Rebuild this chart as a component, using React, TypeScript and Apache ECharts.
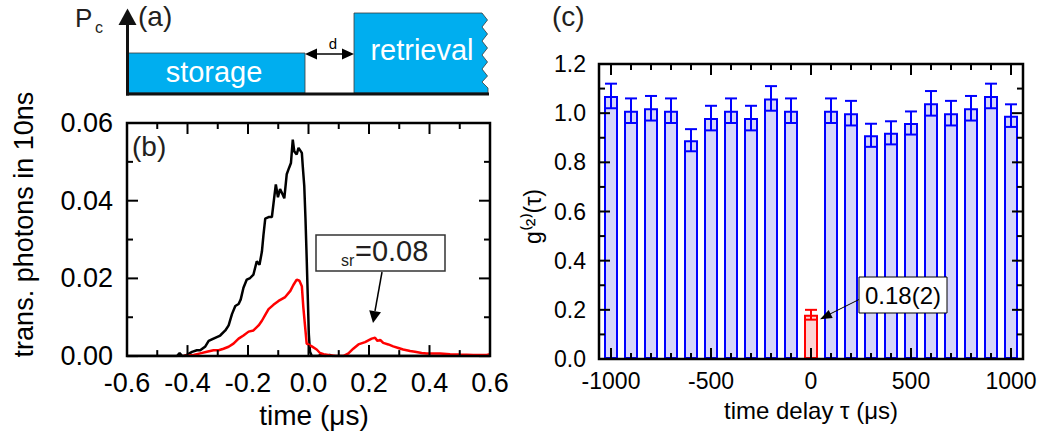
import React, { useEffect, useRef } from "react";
import * as echarts from "echarts";

const FONT = '"Liberation Sans", Arial, Helvetica, sans-serif';
const INK = "#231f20";
const BLUE = "#0000ff";
const RED = "#ff0000";

// (b) photons per 10 ns bin versus time (µs): input pulse without memory (black)
const inputPulse: [number, number][] = [
  [-0.6, 0], [-0.45, 0], [-0.435, 0], [-0.426, 0.0008], [-0.418, 0], [-0.402, 0.0003],
  [-0.385, 0.0011], [-0.369, 0.0015], [-0.358, 0.0015], [-0.341, 0.0025], [-0.33, 0.0039],
  [-0.314, 0.0045], [-0.292, 0.0053], [-0.275, 0.0066], [-0.264, 0.0079], [-0.253, 0.0108],
  [-0.242, 0.0129], [-0.231, 0.0134], [-0.224, 0.0146], [-0.215, 0.0176], [-0.204, 0.0197],
  [-0.193, 0.0201], [-0.182, 0.021], [-0.171, 0.0244], [-0.162, 0.0235], [-0.154, 0.0269],
  [-0.149, 0.0311], [-0.143, 0.0354], [-0.132, 0.0358], [-0.121, 0.0358], [-0.114, 0.0404],
  [-0.108, 0.0442], [-0.101, 0.0409], [-0.094, 0.043], [-0.086, 0.0417], [-0.08, 0.0406],
  [-0.072, 0.0468], [-0.064, 0.0485], [-0.058, 0.0497], [-0.052, 0.0557], [-0.047, 0.0527],
  [-0.039, 0.0519], [-0.033, 0.0536], [-0.022, 0.0523], [-0.019, 0.0489], [-0.014, 0.0438],
  [-0.01, 0.0354], [-0.006, 0.0252], [-0.002, 0.0142], [0.001, 0.0057], [0.005, 0.0011],
  [0.011, 0], [0.03, 0], [0.045, 0.0004], [0.055, 0], [0.07, 0.0003], [0.08, 0], [0.6, 0],
];

// (b) stored pulse: leakage during storage and retrieved photons (red)
const memoryTrace: [number, number][] = [
  [-0.413, 0], [-0.38, 0.0003], [-0.358, 0.0007], [-0.336, 0.0011], [-0.314, 0.0015],
  [-0.297, 0.0015], [-0.281, 0.0019], [-0.264, 0.0024], [-0.248, 0.0032], [-0.231, 0.0045],
  [-0.215, 0.0053], [-0.198, 0.0063], [-0.182, 0.0066], [-0.165, 0.0079], [-0.154, 0.0091],
  [-0.143, 0.0106], [-0.132, 0.0121], [-0.116, 0.0132], [-0.099, 0.0142], [-0.077, 0.0152],
  [-0.06, 0.0168], [-0.05, 0.0183], [-0.039, 0.0197], [-0.03, 0.0194], [-0.022, 0.018],
  [-0.017, 0.0125], [-0.011, 0.0074], [-0.006, 0.0032], [0.011, 0.0025], [0.027, 0.0017],
  [0.038, 0.0008], [0.05, 0.0005], [0.07, 0.0002], [0.09, 0], [0.115, 0], [0.132, 0.0007],
  [0.148, 0.0019], [0.165, 0.003], [0.187, 0.0036], [0.209, 0.0045], [0.22, 0.0047],
  [0.228, 0.0039], [0.237, 0.0042], [0.247, 0.0034], [0.264, 0.003], [0.28, 0.0025],
  [0.297, 0.0021], [0.313, 0.0017], [0.336, 0.0013], [0.352, 0.0011], [0.374, 0.0008],
  [0.391, 0.0007], [0.435, 0.0007], [0.468, 0.0005], [0.501, 0.0004], [0.545, 0.0003],
  [0.589, 0.0003], [0.6, 0.0005],
];

// (c) second-order correlation versus time delay τ (µs)
const delays = [
  -1000, -900, -800, -700, -600, -500, -400, -300, -200, -100, 0,
  100, 200, 300, 400, 500, 600, 700, 800, 900, 1000,
];
const g2Values = [
  1.07, 1.01, 1.02, 1.01, 0.89, 0.98, 1.01, 0.98, 1.06, 1.01, 0.18,
  1.01, 1.0, 0.91, 0.92, 0.96, 1.04, 1.0, 1.02, 1.07, 0.99,
];
const g2Errors = [
  0.05, 0.05, 0.05, 0.05, 0.045, 0.05, 0.05, 0.05, 0.05, 0.05, 0.02,
  0.05, 0.05, 0.047, 0.047, 0.047, 0.05, 0.05, 0.05, 0.05, 0.046,
];

// axis ranges and tick positions (major ones carry labels)
const timeRange = [-0.6, 0.6];
const photonRange = [0, 0.06];
const delayRange = [-1060, 1060];
const g2Range = [0, 1.2];
const timeMajor = [-0.6, -0.4, -0.2, 0, 0.2, 0.4, 0.6];
const timeMinor = [-0.5, -0.3, -0.1, 0.1, 0.3, 0.5];
const photonMajor = [0, 0.02, 0.04, 0.06];
const photonMinor = [0.01, 0.03, 0.05];
const delayMajor = [-1000, -500, 0, 500, 1000];
const delayMinor = [-900, -800, -700, -600, -400, -300, -200, -100, 100, 200, 300, 400, 600, 700, 800, 900];
const g2Major = [0, 0.2, 0.4, 0.6, 0.8, 1.0, 1.2];
const g2Minor = [0.1, 0.3, 0.5, 0.7, 0.9, 1.1];

const MAJOR = 11;
const MINOR = 6;

const noSplit = { splitLine: { show: false }, minorSplitLine: { show: false } };
const fmt = (digits: number) => (v: number) => (Math.abs(v) < 1e-9 ? 0 : v).toFixed(digits);

const txt = (x: number, y: number, text: string, fontSize: number, fill = INK, align = "left") => ({
  type: "text",
  x,
  y,
  z: 100,
  style: { text, fontSize, fontFamily: FONT, fill, align, verticalAlign: "middle" },
});
const seg = (x1: number, y1: number, x2: number, y2: number, w: number, c = "#000") => ({
  type: "line",
  z: 100,
  shape: { x1, y1, x2, y2 },
  style: { stroke: c, lineWidth: w },
});
const tri = (pts: number[][], c = "#000") => ({
  type: "polygon",
  z: 100,
  shape: { points: pts },
  style: { fill: c },
});

// schematic (a) and the text annotations of (b) and (c)
const sketchAndNotes = [
  {
    type: "rect",
    z: 100,
    shape: { x: 128, y: 53, width: 177, height: 40 },
    style: { fill: "#00aeef", stroke: "#3a3a3a", lineWidth: 0.8 },
  },
  {
    type: "polygon",
    z: 100,
    shape: {
      points: [
        [354, 13], [482, 13], [487.5, 20], [482, 27], [487.5, 34], [482, 41], [487.5, 48],
        [482, 55], [487.5, 62], [482, 69], [487.5, 76], [482, 82], [488, 88], [488, 93], [354, 93],
      ],
    },
    style: { fill: "#00aeef", stroke: "#3a3a3a", lineWidth: 0.8 },
  },
  seg(126, 94, 489, 94, 3, "#111"),
  seg(127.5, 95.5, 127.5, 22, 3, "#111"),
  tri([[118.5, 25], [136.5, 25], [127.5, 8.5]], "#111"),
  seg(312, 54, 347, 54, 1.5),
  tri([[305, 54], [317, 48.5], [317, 59.5]]),
  tri([[354, 54], [342, 48.5], [342, 59.5]]),
  txt(214, 72, "storage", 29, "#fff", "center"),
  txt(422, 49.5, "retrieval", 29, "#fff", "center"),
  txt(333, 43, "d", 15, "#000", "center"),
  txt(75, 18, "P", 26),
  txt(95, 27, "c", 16),
  txt(138, 16, "(a)", 28),

  txt(132, 146, "(b)", 28),
  {
    type: "rect",
    z: 100,
    shape: { x: 316, y: 235, width: 129, height: 36 },
    style: { fill: "#fff", stroke: "#333", lineWidth: 1.5 },
  },
  txt(341, 260, "sr", 16),
  txt(355, 251, "=0.08", 29),
  seg(382, 272, 375, 311, 1.5),
  tri([[373, 323], [381, 312.2], [369.2, 310.2]]),

  txt(552, 16, "(c)", 28),
  {
    type: "rect",
    z: 100,
    shape: { x: 859, y: 277, width: 88, height: 36 },
    style: { fill: "#fff", stroke: "#000", lineWidth: 1 },
  },
  txt(903, 295, "0.18(2)", 24, "#000", "center"),
  seg(859, 299.5, 830, 314, 1),
  tri([[820, 319.3], [832.7, 317.9], [828.7, 309.9]]),
];

// Boxed frame with inward ticks on all four sides, located through the grid's scales.
function frame(
  chart: any,
  gridIndex: number,
  xr: number[],
  yr: number[],
  xMajor: number[],
  xMinor: number[],
  yMajor: number[],
  yMinor: number[]
) {
  const px = (x: number, y: number) => chart.convertToPixel({ gridIndex }, [x, y]);
  const [left, top] = px(xr[0], yr[1]);
  const [right, bottom] = px(xr[1], yr[0]);
  const out: any[] = [];
  const st = { stroke: "#000", lineWidth: 2 };
  const xt = (v: number, len: number) => {
    const x = px(v, yr[0])[0];
    out.push({ type: "line", z: 90, shape: { x1: x, y1: bottom, x2: x, y2: bottom - len }, style: st });
    out.push({ type: "line", z: 90, shape: { x1: x, y1: top, x2: x, y2: top + len }, style: st });
  };
  const yt = (v: number, len: number) => {
    const y = px(xr[0], v)[1];
    out.push({ type: "line", z: 90, shape: { x1: left, y1: y, x2: left + len, y2: y }, style: st });
    out.push({ type: "line", z: 90, shape: { x1: right, y1: y, x2: right - len, y2: y }, style: st });
  };
  xMajor.forEach((v) => xt(v, MAJOR));
  xMinor.forEach((v) => xt(v, MINOR));
  yMajor.forEach((v) => yt(v, MAJOR));
  yMinor.forEach((v) => yt(v, MINOR));
  out.push({
    type: "rect",
    z: 91,
    shape: { x: left, y: top, width: right - left, height: bottom - top },
    style: { fill: "none", stroke: "#000", lineWidth: 2.5 },
  });
  return out;
}

function buildOption() {
  const labelB = { fontSize: 27, fontFamily: FONT, color: "#000" };
  const labelC = { fontSize: 23, fontFamily: FONT, color: "#000" };
  const hidden = { show: false };

  return {
    animation: false,
    backgroundColor: "#fff",
    grid: [
      { left: 127, top: 123, width: 363, height: 236 },
      { left: 599, top: 64, width: 424, height: 295 },
    ],
    xAxis: [
      {
        gridIndex: 0, type: "value", position: "bottom", min: timeRange[0], max: timeRange[1], interval: 0.2,
        axisLine: hidden, axisTick: hidden, ...noSplit,
        axisLabel: { ...labelB, margin: 13, formatter: fmt(1) },
        name: "time (μs)", nameLocation: "middle", nameGap: 42,
        nameTextStyle: { fontSize: 28, fontFamily: FONT, color: "#000", padding: [0, 0, 0, 11] },
      },
      {
        gridIndex: 1, type: "value", position: "bottom", min: delayRange[0], max: delayRange[1],
        axisLine: hidden, axisTick: hidden, ...noSplit,
        axisLabel: { ...labelC, margin: 10, customValues: delayMajor, formatter: (v: number) => String(v) },
        name: "time delay τ (μs)", nameLocation: "middle", nameGap: 39,
        nameTextStyle: { fontSize: 24, fontFamily: FONT, color: "#000" },
      },
    ],
    yAxis: [
      {
        gridIndex: 0, type: "value", position: "left", min: photonRange[0], max: photonRange[1], interval: 0.02,
        axisLine: hidden, axisTick: hidden, ...noSplit,
        axisLabel: { ...labelB, margin: 14, formatter: fmt(2) },
        name: "trans. photons in 10ns", nameLocation: "middle", nameGap: 90,
        nameTextStyle: { fontSize: 27, fontFamily: FONT, color: "#000", padding: [0, 0, 0, 30] },
      },
      {
        gridIndex: 1, type: "value", position: "left", min: g2Range[0], max: g2Range[1], interval: 0.2,
        axisLine: hidden, axisTick: hidden, ...noSplit,
        axisLabel: { ...labelC, margin: 13, formatter: fmt(1) },
        name: "g⁽²⁾(τ)", nameLocation: "middle", nameGap: 55,
        nameTextStyle: { fontSize: 23, fontFamily: FONT, color: "#000", padding: [0, 10, 0, 0] },
      },
    ],
    series: [
      {
        name: "input", type: "line", xAxisIndex: 0, yAxisIndex: 0, data: inputPulse,
        showSymbol: false, lineStyle: { color: "#000", width: 2.5 }, z: 3,
      },
      {
        name: "memory", type: "line", xAxisIndex: 0, yAxisIndex: 0, data: memoryTrace,
        showSymbol: false, lineStyle: { color: RED, width: 2.5 }, z: 4,
      },
      {
        name: "g2", type: "bar", xAxisIndex: 1, yAxisIndex: 1, barWidth: 14,
        itemStyle: { color: "#d6d6fa", borderColor: BLUE, borderWidth: 2 },
        data: delays.map((d, i) => ({
          value: [d, g2Values[i]],
          itemStyle: d === 0 ? { color: "#fcd4d4", borderColor: RED, borderWidth: 2 } : undefined,
        })),
        z: 2,
      },
      {
        name: "g2 error", type: "custom", xAxisIndex: 1, yAxisIndex: 1, z: 5,
        encode: { x: 0, y: [1, 2] },
        data: delays.map((d, i) => [d, g2Values[i] - g2Errors[i], g2Values[i] + g2Errors[i]]),
        renderItem: (_p: any, api: any) => {
          const x = api.value(0);
          const lo = api.coord([x, api.value(1)]);
          const hi = api.coord([x, api.value(2)]);
          const c = x === 0 ? RED : BLUE;
          const st = { stroke: c, lineWidth: 2 };
          const h = 6;
          return {
            type: "group",
            children: [
              { type: "line", shape: { x1: hi[0], y1: hi[1], x2: lo[0], y2: lo[1] }, style: st },
              { type: "line", shape: { x1: hi[0] - h, y1: hi[1], x2: hi[0] + h, y2: hi[1] }, style: st },
              { type: "line", shape: { x1: lo[0] - h, y1: lo[1], x2: lo[0] + h, y2: lo[1] }, style: st },
            ],
          };
        },
      },
    ],
  };
}

export default function App() {
  const ref = useRef<HTMLDivElement>(null);
  useEffect(() => {
    if (!ref.current) return;
    const chart = echarts.init(ref.current, null, { renderer: "svg" });
    chart.setOption(buildOption() as any);
    chart.setOption({
      graphic: [
        ...sketchAndNotes,
        ...frame(chart, 0, timeRange, photonRange, timeMajor, timeMinor, photonMajor, photonMinor),
        ...frame(chart, 1, delayRange, g2Range, delayMajor, delayMinor, g2Major, g2Minor),
      ],
    } as any);
    return () => chart.dispose();
  }, []);
  return (
    <div
      ref={ref}
      style={{ position: "absolute", left: 0, top: 0, width: 1041, height: 434, background: "#fff" }}
    />
  );
}
